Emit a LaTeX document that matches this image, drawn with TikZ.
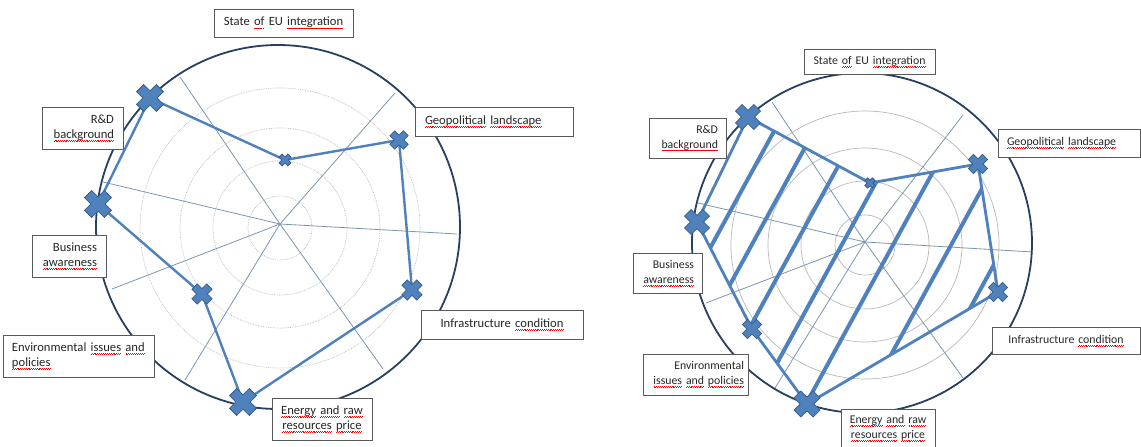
\documentclass[tikz,border=0pt]{standalone}
\usepackage{fontspec}
\setmainfont{Carlito}

\definecolor{ptblue}{RGB}{79,129,189}
\definecolor{ptedge}{RGB}{56,93,138}
\definecolor{rimc}{RGB}{37,64,97}
\definecolor{spokec}{RGB}{125,150,175}
\definecolor{ringc}{RGB}{185,185,185}
\definecolor{txt}{RGB}{38,38,38}

% red wavy spell-check line
\newcommand\spell[1]{\leavevmode\setbox0\hbox{#1}\rlap{\color{red}\xleaders\hbox{\rule[-2.9pt]{0.9pt}{0.5pt}\rule[-2.3pt]{0.9pt}{0.5pt}}\hskip\wd0}\box0\relax}

\tikzset{
  box/.style={draw=black!65, line width=0.8pt, fill=white, text=txt, inner ysep=0pt},
  lbl/.style={box, font=\fontsize{12.6}{15}\selectfont, inner xsep=9pt},
  lbr/.style={box, font=\fontsize{11.8}{15}\selectfont, inner xsep=8pt},
  rim/.style={draw=rimc, line width=1.8pt},
  rng/.style={draw=ringc, line width=0.7pt},
  spk/.style={draw=spokec, line width=0.8pt},
  poly/.style={draw=ptblue, line width=2.4pt, line join=round},
  hatch/.style={draw=ptblue, line width=4pt},
  xmark/.pic={\filldraw[fill=ptblue, draw=ptedge, line width=0.8pt, rotate=45]
    (0.36,1) -- (0.36,0.36) -- (1,0.36) -- (1,-0.36) -- (0.36,-0.36) -- (0.36,-1) -- (-0.36,-1)
    -- (-0.36,-0.36) -- (-1,-0.36) -- (-1,0.36) -- (-0.36,0.36) -- (-0.36,1) -- cycle;}
}

\begin{document}
\begin{tikzpicture}[x=1pt, y=-1pt]
        \useasboundingbox (0,0) rectangle (1141,447);
        \fill[white] (0,0) rectangle (1141,447);

        %%% left chart
        \coordinate (c1) at (280,224);
        \foreach \r in {32,67,100,140}
            \draw[rng, densely dotted] (280,228) circle[radius=\r];
        \foreach \e in {(180,77),(383,369),(395,93),(185,380),(103,182),(457,234),(112,289)}
            \draw[spk] (c1) -- \e;
        \draw[rim] (278,227) circle[radius=182];
        % points
        \foreach \p [count=\xi from 1] in {{150,98},{285,160},{399,140},{412,290},{243,402},{202,294},{98,204}}
            \coordinate (l\xi) at (\p);
        \draw[poly] (l1) \foreach \i in {2,...,7} {-- (l\i)} -- cycle;
        \foreach \i/\s in {1/14,2/6.2,3/9.5,4/10.5,5/14,6/10.5,7/14}
            \pic[scale=\s] at (l\i) {xmark};
        % labels
        \node (eu1) [lbl, minimum width=139, minimum height=28, text width=121, align=center] at (283.5,23)
            {State \spell{of} EU \spell{integration}};
        \node (rd1) [lbl, minimum width=81, minimum height=42, text width=63, align=right] at (82.5,128)
            {R\&D\\\spell{background}};
        \node (geo1) [lbl, minimum width=158, minimum height=29, text width=138, inner xsep=10pt, align=left] at (494,121.5)
            {\spell{Geopolitical} \spell{landscape}};
        \node (bus1) [lbl, minimum width=74, minimum height=42, text width=56, align=right] at (69,256)
            {Business\\\spell{awareness}};
        \node (env1) [lbl, minimum width=151, minimum height=42, text width=133, align=left] at (78.5,356)
            {Environmental \spell{issues} \spell{and}\\\spell{policies}};
        \node (inf1) [lbl, minimum width=162, minimum height=29, text width=144, align=center] at (502,324.5)
            {Infrastructure \spell{condition}};
        \node (en1) [lbl, minimum width=100, minimum height=42, text width=82, align=center] at (322,419)
            {\spell{Energy} \spell{and} \spell{raw}\\\spell{resources} \spell{price}};

        %%% right chart
        \coordinate (c2) at (865,242);
        \foreach \r in {30,64,97,134}
            \draw[rng] (865,245) circle[radius=\r];
        \foreach \e in {(772,102),(963,378),(963,115),(775,388),(698,203),(1033,252),(706,303)}
            \draw[spk] (c2) -- \e;
        \draw[rim] (862,243) circle[radius=170];
        % points
        \foreach \p [count=\xi from 1] in {{748,117},{870,183},{978,164},{998,292},{807,404},{752,329},{697,222}}
            \coordinate (r\xi) at (\p);
        % hatching
        \begin{scope}
            \clip (r1) \foreach \i in {2,...,7} {-- (r\i)} -- cycle;
            \begin{scope}[shift={(c2)}]
                \foreach \k in {-133,-98,-60,-19,26,77,124}
                    \draw[hatch] (\k*0.877-124.8, \k*0.48+228) -- (\k*0.877+124.8, \k*0.48-228);
            \end{scope}
        \end{scope}
        \draw[poly, line width=2.8pt] (r1) \foreach \i in {2,...,7} {-- (r\i)} -- cycle;
        \foreach \i/\s in {1/13,2/5.3,3/10,4/10,5/13.5,6/10,7/13}
            \pic[scale=\s] at (r\i) {xmark};
        % labels
        \node (eu2) [lbr, minimum width=131, minimum height=25, text width=115, align=center] at (869.5,61.5)
            {State \spell{of} EU \spell{integration}};
        \node (rd2) [lbr, minimum width=77, minimum height=40, text width=61, align=right] at (687.5,138)
            {R\&D\\\spell{background}};
        \node (geo2) [lbr, minimum width=142, minimum height=28, text width=124, inner xsep=9pt, align=left] at (1069,143)
            {\spell{Geopolitical} \spell{landscape}};
        \node (bus2) [lbr, minimum width=69, minimum height=40, text width=53, align=right] at (667.5,273)
            {Business\\\spell{awareness}};
        \node (env2) [lbr, minimum width=105, minimum height=41, text width=97, inner xsep=4pt, align=right] at (695.5,374.5)
            {Environmental\\\spell{issues} \spell{and} \spell{policies}};
        \node (inf2) [lbr, minimum width=148, minimum height=27, text width=132, align=center] at (1066,340.5)
            {Infrastructure \spell{condition}};
        \node (en2) [lbr, minimum width=94, minimum height=38, text width=78, align=center] at (888,428)
            {\spell{Energy} \spell{and} \spell{raw}\\\spell{resources} \spell{price}};
\end{tikzpicture}
\end{document}
